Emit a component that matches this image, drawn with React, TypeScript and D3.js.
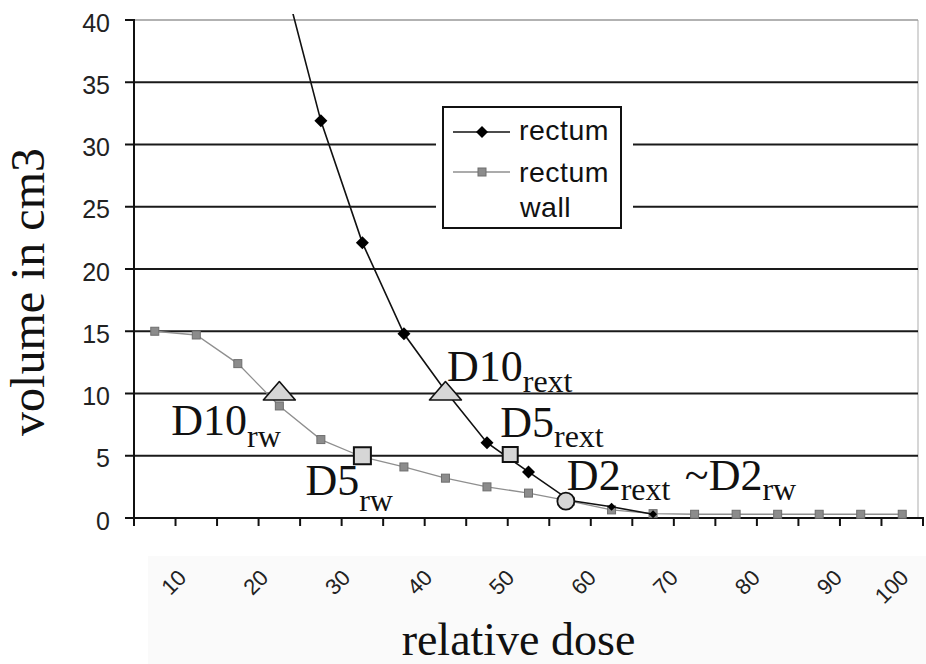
import React from "react";
import * as d3 from "d3";

// Relative dose categories (per cent) and cumulative volumes (cm3)
const doseCategories = [10, 15, 20, 25, 30, 35, 40, 45, 50, 55, 60, 65, 70, 75, 80, 85, 90, 95, 100];
const rectumWallVolume = [15.0, 14.7, 12.4, 9.0, 6.3, 4.9, 4.1, 3.2, 2.5, 2.0, 1.35, 0.65, 0.35, 0.3, 0.3, 0.3, 0.3, 0.3, 0.3];
const rectumDoses = [25, 30, 35, 40, 45, 50, 55, 60, 65, 70];
const rectumVolume = [44.7, 31.9, 22.1, 14.8, 10.2, 6.05, 3.7, 1.4, 0.9, 0.3];

const yTickValues = [0, 5, 10, 15, 20, 25, 30, 35, 40];
const xTickLabels = [10, 20, 30, 40, 50, 60, 70, 80, 90, 100];

// Dose-volume reference points marked on the curves
const doseMarkers = [
  { id: "D10rw", shape: "triangle", dose: 25, volume: 10 },
  { id: "D10rext", shape: "triangle", dose: 45, volume: 10 },
  { id: "D5rw", shape: "square", dose: 35, volume: 5 },
  { id: "D5rext", shape: "square", dose: 52.8, volume: 5.1 },
  { id: "D2rext", shape: "circle", dose: 59.5, volume: 1.35 },
];

const annotationTexts = [
  { marker: "D10rw", main: "D10", sub: "rw" },
  { marker: "D10rext", main: "D10", sub: "rext" },
  { marker: "D5rw", main: "D5", sub: "rw" },
  { marker: "D5rext", main: "D5", sub: "rext" },
  { marker: "D2rext", main: "D2", sub: "rext" },
  { marker: "D2rext", main: "~D2", sub: "rw" },
];

// Layout: text offsets (px) from the marker each annotation belongs to
const annotationLayout = [
  { dx: -108, dy: 41.5, subShift: 12 },
  { dx: 1.5, dy: -12.5, subShift: 10.5 },
  { dx: -57, dy: 39.5, subShift: 16 },
  { dx: -10, dy: -18, subShift: 10 },
  { dx: 1, dy: -11, subShift: 10 },
  { dx: 119, dy: -11, subShift: 10 },
];

const W = 926;
const H = 664;
const plot = { left: 134, right: 923, top: 20, bottom: 518, frameRight: 918 };

const serif = "'Liberation Serif', 'Times New Roman', serif";
const sans = "'Liberation Sans', Arial, sans-serif";

export default function App() {
  const x = d3.scaleLinear().domain([7.5, 102.5]).range([plot.left, plot.right]);
  const y = d3.scaleLinear().domain([0, 40]).range([plot.bottom, plot.top]);

  // tick marks sit between the dose categories
  const xTickMarks = d3.range(7.5, 102.6, 5);
  // rotated category labels, slightly compressed and kept inside the chart
  const labelX = (d: number) => Math.min(x(d) + 33 - (d - 10) * 0.11, W - 16);

  const wallPts = doseCategories.map((d, i) => [x(d), y(rectumWallVolume[i])] as [number, number]);
  const rectPts = rectumDoses.map((d, i) => [x(d), y(rectumVolume[i])] as [number, number]);
  const line = d3.line();

  const markerById: Record<string, { cx: number; cy: number }> = {};
  doseMarkers.forEach((m) => {
    markerById[m.id] = { cx: x(m.dose), cy: y(m.volume) };
  });

  const diamond = (cx: number, cy: number, r: number) =>
    `M${cx},${cy - r}L${cx + r},${cy}L${cx},${cy + r}L${cx - r},${cy}Z`;

  const legend = { x: 443, y: 107, w: 178, h: 121 };

  return (
    <div style={{ position: "absolute", left: 0, top: 0 }}>
      <svg width={W} height={H} viewBox={`0 0 ${W} ${H}`} style={{ display: "block", background: "#fff" }}>
        <defs>
          <clipPath id="plotClip">
            <rect x={plot.left} y={plot.top - 6} width={plot.right - plot.left} height={plot.bottom - plot.top + 12} />
          </clipPath>
        </defs>
        <rect x={0} y={0} width={W} height={H} fill="#fff" />
        <rect x={148} y={556} width={W - 148} height={H - 556} fill="#fafafa" />

        {/* right frame edge */}
        <line x1={plot.frameRight} x2={plot.frameRight} y1={plot.top} y2={plot.bottom} stroke="#bbb" strokeWidth={1.2} />

        {/* horizontal gridlines and y ticks */}
        {yTickValues.map((v) => (
          <g key={v}>
            {v > 0 && (
              <line
                x1={plot.left}
                x2={plot.frameRight}
                y1={y(v)}
                y2={y(v)}
                stroke={v === 40 ? "#999" : "#1a1a1a"}
                strokeWidth={v === 40 ? 1.5 : 2}
              />
            )}
            <line x1={plot.left - 9} x2={plot.left} y1={y(v)} y2={y(v)} stroke="#111" strokeWidth={2} />
            <text x={110} y={y(v) + 11.5} textAnchor="end" fontFamily={sans} fontSize={25} fill="#222">
              {v}
            </text>
          </g>
        ))}

        {/* legend background breaks the gridlines */}
        <rect x={legend.x - 7} y={legend.y - 6} width={legend.w + 19} height={legend.h + 12} fill="#fff" />

        {/* axes */}
        <line x1={plot.left} x2={plot.left} y1={plot.top - 1} y2={plot.bottom + 1} stroke="#111" strokeWidth={2} />
        <line x1={plot.left} x2={plot.right + 1} y1={plot.bottom} y2={plot.bottom} stroke="#111" strokeWidth={2} />
        {xTickMarks.map((t) => (
          <line key={t} x1={x(t)} x2={x(t)} y1={plot.bottom} y2={plot.bottom + 8} stroke="#111" strokeWidth={2} />
        ))}

        {/* series */}
        <g clipPath="url(#plotClip)">
          <path d={line(wallPts) || ""} fill="none" stroke="#8f8f8f" strokeWidth={1.3} />
          {wallPts.map(([px, py], i) => (
            <rect key={i} x={px - 4} y={py - 4} width={8} height={8} fill="#8c8c8c" stroke="#6e6e6e" strokeWidth={1} />
          ))}
          <path d={line(rectPts) || ""} fill="none" stroke="#111" strokeWidth={1.6} />
          {rectPts.map(([px, py], i) => (
            <path key={i} d={diamond(px, py, i >= 7 ? 4 : 6.5)} fill="#000" />
          ))}
        </g>

        {/* dose-volume reference markers */}
        {doseMarkers.map((m) => {
          const { cx, cy } = markerById[m.id];
          if (m.shape === "triangle") {
            return (
              <path
                key={m.id}
                d={`M${cx},${cy - 12}L${cx + 16},${cy + 6.5}L${cx - 16},${cy + 6.5}Z`}
                fill="#d6d6d6"
                stroke="#111"
                strokeWidth={1.6}
                strokeLinejoin="round"
              />
            );
          }
          if (m.shape === "square") {
            const s = m.id === "D5rw" ? 17 : 15;
            return (
              <rect key={m.id} x={cx - s / 2} y={cy - s / 2} width={s} height={s} fill="#d6d6d6" stroke="#111" strokeWidth={2} />
            );
          }
          return <circle key={m.id} cx={cx} cy={cy} r={8.5} fill="#d6d6d6" stroke="#111" strokeWidth={1.8} />;
        })}

        {/* annotation labels */}
        {annotationTexts.map((a, i) => {
          const { cx, cy } = markerById[a.marker];
          const lay = annotationLayout[i];
          return (
            <text key={i} x={cx + lay.dx} y={cy + lay.dy} fontFamily={serif} fontSize={44} fill="#111">
              {a.main}
              <tspan fontSize={32} dy={lay.subShift}>
                {a.sub}
              </tspan>
            </text>
          );
        })}

        {/* legend */}
        <rect x={legend.x} y={legend.y} width={legend.w} height={legend.h} fill="#fff" stroke="#111" strokeWidth={2} />
        <line x1={453} x2={510} y1={132} y2={132} stroke="#111" strokeWidth={1.6} />
        <path d={diamond(482, 132, 6)} fill="#000" />
        <text x={519} y={139.5} fontFamily={sans} fontSize={28.5} fill="#111" letterSpacing={0.5}>
          rectum
        </text>
        <line x1={453} x2={510} y1={172} y2={172} stroke="#8f8f8f" strokeWidth={1.3} />
        <rect x={478} y={168} width={8} height={8} fill="#8c8c8c" stroke="#6e6e6e" strokeWidth={1} />
        <text x={519} y={181.5} fontFamily={sans} fontSize={28.5} fill="#111" letterSpacing={0.5}>
          rectum
        </text>
        <text x={520} y={217} fontFamily={sans} fontSize={28.5} fill="#111" letterSpacing={0.5}>
          wall
        </text>

        {/* x tick labels */}
        {xTickLabels.map((d) => (
          <text
            key={d}
            transform={`translate(${labelX(d)},579) rotate(-45)`}
            textAnchor="end"
            fontFamily={sans}
            fontSize={22}
            fill="#222"
          >
            {d}
          </text>
        ))}

        {/* axis titles */}
        <text x={518.5} y={655} textAnchor="middle" fontFamily={serif} fontSize={46} fill="#111">
          relative dose
        </text>
        <text transform={`translate(44,148) rotate(-90)`} textAnchor="end" fontFamily={serif} fontSize={48} fill="#111">
          volume in cm3
        </text>
      </svg>
    </div>
  );
}
